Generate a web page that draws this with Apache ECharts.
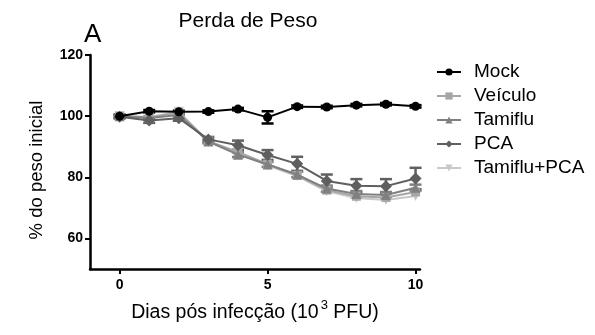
<!DOCTYPE html>
<html><head><meta charset="utf-8">
<script src="https://cdn.jsdelivr.net/npm/echarts@6/dist/echarts.min.js"></script>
<style>html,body{margin:0;padding:0;background:#fff}#c{width:595px;height:335px}</style>
</head><body><div id="c"></div>
<script>
const days = [0,1,2,3,4,5,6,7,8,9,10];
const mock = [100,101.6,101.4,101.5,102.3,99.6,103.1,103,103.6,103.9,103.2];
const mockErr = [0.5,0.4,0.4,0.4,0.4,2,0.4,0.4,0.4,0.4,0.4];
const veiculo = [100,99.6,101.2,91.8,88.3,84.3,80.6,75.8,73.8,73.4,75.2];
const tamiflu = [100,99.4,100.4,91.7,87.4,84.2,80.9,76.3,74.5,74.2,76.6];
const pca = [99.8,98.6,99.3,92.4,90.5,87.3,84.4,78.8,77.2,77.1,79.6];
const pcaErr = [0.6,0.8,0.8,0.8,1.5,1.6,2.3,2.1,2.2,2.3,3.5];
const tamPca = [100,99.8,101.4,91.6,88.0,83.8,80.4,75.4,73.2,72.6,73.9];
const smallErr = [0.4,0.5,0.5,0.6,0.8,0.8,0.9,1,1,1,1];
const yTicks = [60,80,100,120];
const xTicks = [0,5,10];

const FONT = "'Liberation Sans', Arial, sans-serif";

function errSeries(vals, errs, color, name) {
  return {
    type: 'custom', name: name + '_err', z: 1, silent: true,
    data: days.map((d,i)=>[d, vals[i]-errs[i], vals[i]+errs[i]]),
    renderItem: function(params, api) {
      const x = api.value(0);
      const lo = api.coord([x, api.value(1)]);
      const hi = api.coord([x, api.value(2)]);
      const w = 6;
      const st = {stroke: color, lineWidth: 2.5};
      return {type:'group', children:[
        {type:'line', shape:{x1:lo[0],y1:lo[1],x2:hi[0],y2:hi[1]}, style:st},
        {type:'line', shape:{x1:lo[0]-w,y1:lo[1],x2:lo[0]+w,y2:lo[1]}, style:st},
        {type:'line', shape:{x1:hi[0]-w,y1:hi[1],x2:hi[0]+w,y2:hi[1]}, style:st}
      ]};
    }
  };
}
function lineSeries(name, vals, color, symbol, size, z) {
  return {
    type:'line', name:name, data: days.map((d,i)=>[d, vals[i]]),
    symbol:symbol, symbolSize:size, z:z,
    lineStyle:{color:color, width:2}, itemStyle:{color:color},
    emphasis:{disabled:true}
  };
}

const chart = echarts.init(document.getElementById('c'), null, {renderer:'canvas'});
chart.setOption({
  animation:false,
  backgroundColor:'#fff',
  title:[
    {text:'Perda de Peso', left:243, top:6, textAlign:'center',
     textStyle:{fontFamily:FONT, fontSize:21, fontWeight:'normal', color:'#000'}},
    {text:'A', left:79, top:17,
     textStyle:{fontFamily:FONT, fontSize:26, fontWeight:'normal', color:'#000'}}
  ],
  legend:{
    orient:'vertical', left:431, top:57, itemGap:4, itemWidth:24, itemHeight:9,
    data:['Mock','Veículo','Tamiflu','PCA','Tamiflu+PCA'],
    textStyle:{fontFamily:FONT, fontSize:19, lineHeight:20, color:'#000', padding:[0,0,0,8]}
  },
  grid:{left:90, top:55, width:330, height:214, containLabel:false},
  xAxis:{
    type:'value', min:-1, max:10.15,
    axisLine:{onZero:false, lineStyle:{color:'#000', width:2.5}},
    axisTick:{show:true, length:5, lineStyle:{color:'#000', width:2}, customValues:xTicks},
    axisLabel:{customValues:xTicks, fontFamily:FONT, fontSize:14, fontWeight:'bold', color:'#000', margin:9},
    splitLine:{show:false},
    name:'{a|Dias pós infecção (10}{s|3}{a| PFU)}', nameLocation:'middle', nameGap:30,
    nameTextStyle:{rich:{
      a:{fontFamily:FONT, fontSize:19.5, color:'#000', verticalAlign:'bottom', lineHeight:24},
      s:{fontFamily:FONT, fontSize:13, color:'#000', verticalAlign:'top', lineHeight:24, padding:[0,0,12,2]}
    }}
  },
  yAxis:{
    type:'value', min:50, max:120,
    axisLine:{onZero:false, lineStyle:{color:'#000', width:2.5}},
    axisTick:{show:true, length:5, lineStyle:{color:'#000', width:2}, customValues:yTicks},
    axisLabel:{customValues:yTicks, fontFamily:FONT, fontSize:14, fontWeight:'bold', color:'#000', margin:7},
    splitLine:{show:false},
    name:'% do peso inicial', nameLocation:'middle', nameGap:44,
    nameTextStyle:{fontFamily:FONT, fontSize:18.5, color:'#000', padding:[0,16,0,0]}
  },
  series:[
    errSeries(mock, mockErr, '#000', 'Mock'),
    errSeries(pca, pcaErr, '#606060', 'PCA'),
    errSeries(tamiflu, smallErr, '#7f7f7f', 'Tamiflu'),
    lineSeries('Tamiflu+PCA', tamPca, '#c8c8c8', 'path://M0,0 L10,0 L5,9 Z', 10, 2),
    lineSeries('Veículo', veiculo, '#a6a6a6', 'rect', 9, 3),
    lineSeries('Tamiflu', tamiflu, '#808080', 'triangle', 10, 4),
    lineSeries('PCA', pca, '#5f5f5f', 'diamond', 12, 5),
    lineSeries('Mock', mock, '#000000', 'circle', 9, 6)
  ]
});
</script></body></html>
